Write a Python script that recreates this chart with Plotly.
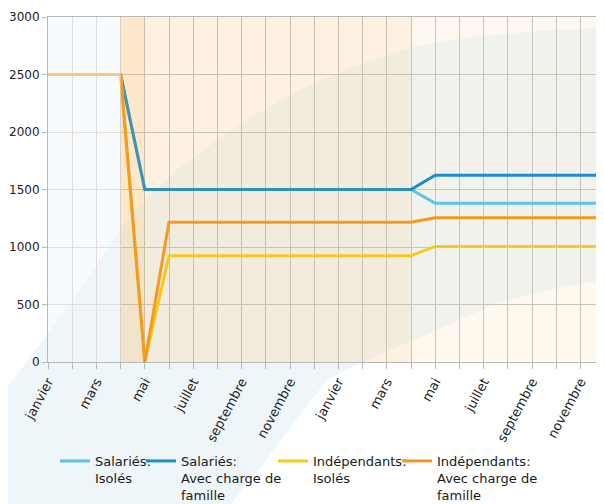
import plotly.graph_objects as go

# ---------------- data ----------------
mois = ["janvier", "février", "mars", "avril", "mai", "juin", "juillet", "août",
        "septembre", "octobre", "novembre", "décembre",
        "janvier", "février", "mars", "avril", "mai", "juin", "juillet", "août",
        "septembre", "octobre", "novembre", "décembre"]
etiquettes = ["janvier", "", "mars", "", "mai", "", "juillet", "", "septembre", "", "novembre", "",
              "janvier", "", "mars", "", "mai", "", "juillet", "", "septembre", "", "novembre", ""]
y_ticks = [0, 500, 1000, 1500, 2000, 2500, 3000]

salaries_isoles = [2500, 2500, 2500, 2500, 1500, 1500, 1500, 1500, 1500, 1500, 1500, 1500,
                   1500, 1500, 1500, 1500, 1380, 1380, 1380, 1380, 1380, 1380, 1380, 1380]
salaries_famille = [2500, 2500, 2500, 2500, 1500, 1500, 1500, 1500, 1500, 1500, 1500, 1500,
                    1500, 1500, 1500, 1500, 1625, 1625, 1625, 1625, 1625, 1625, 1625, 1625]
indep_isoles = [2500, 2500, 2500, 2500, 0, 925, 925, 925, 925, 925, 925, 925,
                925, 925, 925, 925, 1005, 1005, 1005, 1005, 1005, 1005, 1005, 1005]
indep_famille = [2500, 2500, 2500, 2500, 0, 1215, 1215, 1215, 1215, 1215, 1215, 1215,
                 1215, 1215, 1215, 1215, 1255, 1255, 1255, 1255, 1255, 1255, 1255, 1255]

series = [
    ("Salariés:<br>Isolés", salaries_isoles, "#5BC3EC", "legend"),
    ("Salariés:<br>Avec charge de<br>famille", salaries_famille, "#1B8DD0", "legend2"),
    ("Indépendants:<br>Isolés", indep_isoles, "#F5CC1A", "legend3"),
    ("Indépendants:<br>Avec charge de<br>famille", indep_famille, "#F39A1E", "legend4"),
]

# ---------------- geometry (page has an 8px body margin) ----------------
OFF = 8
W, H = 604, 504
ML, MT, MR = 40, 9, 0
PH = 345
MB = H - MT - PH
PW = W - ML - MR
MONTH_PX = 24.2
X0_WIN = OFF + ML              # window x of the first month
YB_WIN = OFF + MT + PH         # window y of value 0
XR = [0, PW / MONTH_PX]
YR = [0, 3000]


def to_data(X, Y):
    return ((X - X0_WIN) / MONTH_PX, (YB_WIN - Y) / PH * YR[1])


def to_paper(X, Y):
    return ((X - X0_WIN) / PW, (YB_WIN - Y) / PH)


def path(points, conv):
    parts = []
    for i, (X, Y) in enumerate(points):
        a, b = conv(X, Y)
        parts.append(("M" if i == 0 else "L") + f"{a:.4f},{b:.4f}")
    return " ".join(parts) + " Z"


arc1 = [(-20, 425), (0, 397), (13, 380), (30, 357), (48, 334), (80, 290), (122, 227),
        (150, 195), (177, 170), (220, 138), (260, 112), (300, 90), (350, 68), (412, 47),
        (480, 36), (550, 30), (604, 28), (640, 27)]
arc2 = [(640, 276), (604, 280), (563, 287), (497, 303), (430, 333), (390, 350), (360, 363),
        (327, 380), (304, 410), (270, 455), (231, 504), (215, 530)]
ring = arc1 + arc2 + [(-20, 530)]
low_blue = [(40, 345), (48, 334), (80, 290), (121, 228), (121, 380), (40, 380)]

shapes = [
    dict(type="path", xref="paper", yref="paper", path=path(ring, to_paper),
         fillcolor="#EEF6FA", line=dict(width=0), layer="below"),
    dict(type="path", xref="x", yref="y", path=path(ring, to_data),
         fillcolor="#F2F2EC", line=dict(width=0), layer="below"),
    dict(type="rect", xref="x", yref="y", x0=-1, x1=3, y0=-500, y1=3500,
         fillcolor="#F0F8FB", line=dict(width=0), layer="below"),
    dict(type="path", xref="x", yref="y", path=path(low_blue, to_data),
         fillcolor="#E2EFF4", line=dict(width=0), layer="below"),
    # translucent bands drawn over the series
    dict(type="rect", xref="x", yref="y", x0=3, x1=15, y0=-500, y1=3500,
         fillcolor="rgba(245,170,60,0.08)", line=dict(width=0), layer="above"),
    dict(type="rect", xref="x", yref="y", x0=3, x1=4, y0=-500, y1=3500,
         fillcolor="rgba(245,170,60,0.12)", line=dict(width=0), layer="above"),
    dict(type="rect", xref="x", yref="y", x0=-1, x1=3, y0=-500, y1=3500,
         fillcolor="rgba(255,255,255,0.45)", line=dict(width=0), layer="above"),
]

fig = go.Figure()
x_pos = list(range(len(mois)))
for name, vals, col, lg in series:
    fig.add_trace(go.Scatter(x=x_pos, y=vals, name=name, mode="lines",
                             line=dict(color=col, width=3), legend=lg,
                             customdata=mois, hovertemplate="%{customdata}: %{y}<extra></extra>"))

FONT = "DejaVu Sans"
legend_text_x = [95, 181, 313, 437]
leg_common = dict(orientation="v", yanchor="top", xanchor="left", valign="top",
                  bgcolor="rgba(0,0,0,0)", borderwidth=0,
                  font=dict(family=FONT, size=13, color="#1a1a1a"),
                  tracegroupgap=0)
legends = {}
for i, key in enumerate(["legend", "legend2", "legend3", "legend4"]):
    px_, py_ = to_paper(legend_text_x[i] - 40, 446)
    legends[key] = dict(x=px_, y=py_, **leg_common)

fig.update_layout(
    width=W, height=H,
    margin=dict(l=ML, r=MR, t=MT, b=MB, autoexpand=False),
    paper_bgcolor="white",
    plot_bgcolor="#FFF8EF",
    showlegend=True,
    shapes=shapes,
    font=dict(family=FONT, size=13, color="#222"),
    xaxis=dict(range=XR, tickmode="array", tickvals=x_pos, ticktext=etiquettes,
               tickangle=-62, showgrid=True, gridcolor="#C8C4BC", gridwidth=1,
               showline=True, linecolor="#B8B8B8", linewidth=1, mirror=True,
               ticks="outside", ticklen=6, tickcolor="#B8B8B8", automargin=False,
               tickfont=dict(family=FONT, size=13, color="#222"), zeroline=False),
    yaxis=dict(range=YR, tickvals=y_ticks, showgrid=True, gridcolor="#C8C4BC", gridwidth=1,
               showline=True, linecolor="#B8B8B8", linewidth=1, automargin=False,
               ticks="outside", ticklen=5, tickcolor="#B8B8B8",
               tickfont=dict(family=FONT, size=12, color="#222"), zeroline=False),
    **legends,
)

fig.write_html("out.html")
